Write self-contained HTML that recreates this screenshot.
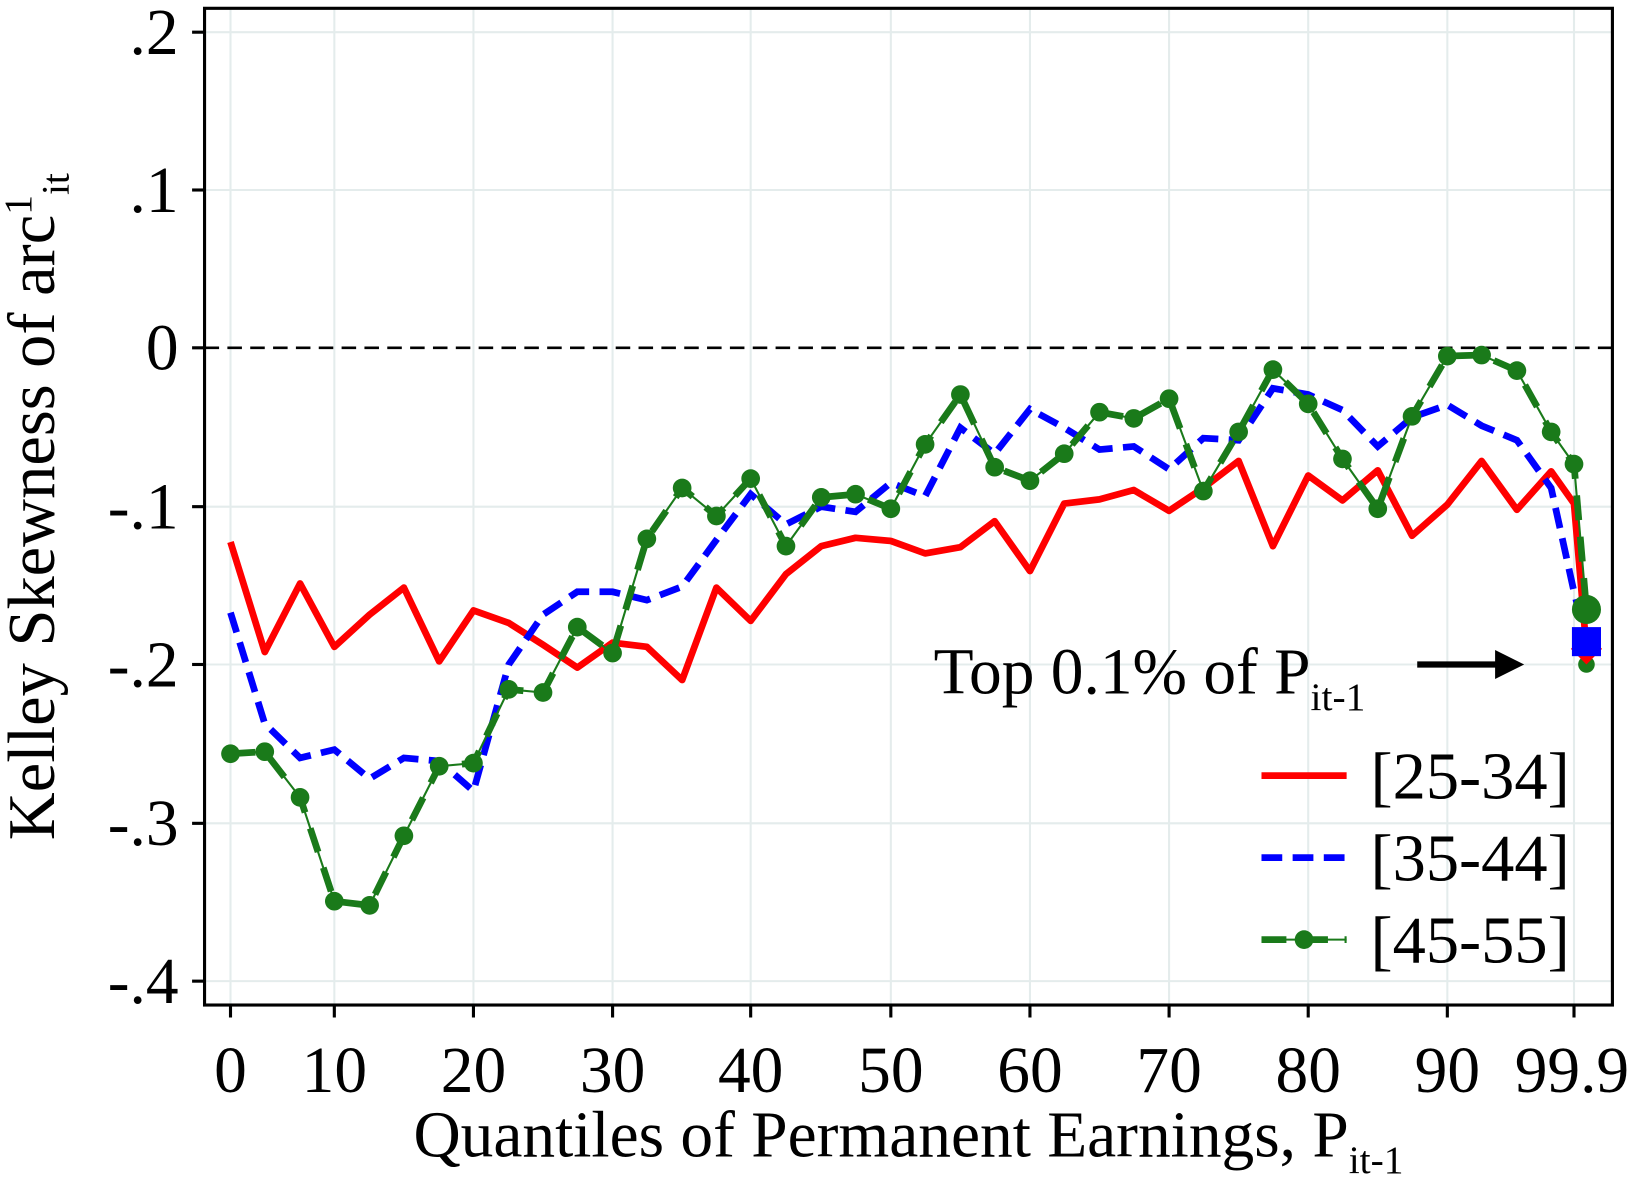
<!DOCTYPE html>
<html><head><meta charset="utf-8"><style>
html,body{margin:0;padding:0;background:#fff;}
svg{display:block;font-family:"Liberation Serif",serif;}
</style></head><body>
<svg width="1628" height="1178" viewBox="0 0 1568 1134.6" xmlns="http://www.w3.org/2000/svg">
<rect width="1568" height="1135" fill="#fff"/>
<g stroke="#e4ecec" stroke-width="2">
<line x1="222" y1="8" x2="222" y2="968"/><line x1="322" y1="8" x2="322" y2="968"/><line x1="456" y1="8" x2="456" y2="968"/><line x1="590" y1="8" x2="590" y2="968"/><line x1="723" y1="8" x2="723" y2="968"/><line x1="858" y1="8" x2="858" y2="968"/><line x1="992" y1="8" x2="992" y2="968"/><line x1="1126" y1="8" x2="1126" y2="968"/><line x1="1260" y1="8" x2="1260" y2="968"/><line x1="1394" y1="8" x2="1394" y2="968"/><line x1="1516" y1="8" x2="1516" y2="968"/>
<line x1="197" y1="31" x2="1553" y2="31"/><line x1="197" y1="183" x2="1553" y2="183"/><line x1="197" y1="488" x2="1553" y2="488"/><line x1="197" y1="640" x2="1553" y2="640"/><line x1="197" y1="793" x2="1553" y2="793"/><line x1="197" y1="945" x2="1553" y2="945"/>
</g>
<line x1="197" y1="335" x2="1553" y2="335" stroke="#000" stroke-width="2.5" stroke-dasharray="14,8"/>
<rect x="197" y="8" width="1356" height="960" fill="none" stroke="#000" stroke-width="3"/>
<g stroke="#000" stroke-width="3">
<line x1="185" y1="31" x2="197" y2="31"/><line x1="185" y1="183" x2="197" y2="183"/><line x1="185" y1="335" x2="197" y2="335"/><line x1="185" y1="488" x2="197" y2="488"/><line x1="185" y1="640" x2="197" y2="640"/><line x1="185" y1="793" x2="197" y2="793"/><line x1="185" y1="945" x2="197" y2="945"/>
<line x1="222" y1="968" x2="222" y2="980"/><line x1="322" y1="968" x2="322" y2="980"/><line x1="456" y1="968" x2="456" y2="980"/><line x1="590" y1="968" x2="590" y2="980"/><line x1="723" y1="968" x2="723" y2="980"/><line x1="858" y1="968" x2="858" y2="980"/><line x1="992" y1="968" x2="992" y2="980"/><line x1="1126" y1="968" x2="1126" y2="980"/><line x1="1260" y1="968" x2="1260" y2="980"/><line x1="1394" y1="968" x2="1394" y2="980"/><line x1="1516" y1="968" x2="1516" y2="980"/>
</g>
<g font-size="63" text-anchor="end" fill="#000">
<text x="172" y="52">.2</text><text x="172" y="204">.1</text><text x="172" y="356">0</text><text x="172" y="509">-.1</text><text x="172" y="661">-.2</text><text x="172" y="814">-.3</text><text x="172" y="966">-.4</text>
</g>
<g font-size="63" text-anchor="middle" fill="#000">
<text x="222" y="1052">0</text><text x="322" y="1052">10</text><text x="456" y="1052">20</text><text x="590" y="1052">30</text><text x="723" y="1052">40</text><text x="858" y="1052">50</text><text x="992" y="1052">60</text><text x="1126" y="1052">70</text><text x="1260" y="1052">80</text><text x="1394" y="1052">90</text><text x="1514" y="1052">99.9</text>
</g>
<text x="875" y="1114" font-size="63" text-anchor="middle">Quantiles of Permanent Earnings, P<tspan font-size="38" dy="16">it-1</tspan></text>
<text transform="translate(52,488) rotate(-90)" font-size="64" text-anchor="middle">Kelley Skewness of arc<tspan font-size="38" dy="-22">1</tspan><tspan font-size="38" dy="36">it</tspan></text>
<polyline fill="none" stroke="#ff0000" stroke-width="6.5" stroke-linejoin="round" points="222,522 255,628 289,562 322,623 356,592 389,566 423,637 456,588 490,600 523,621 556,643 590,619 623,623 657,655 690,566 723,598 757,553 791,526 824,518 858,521 891,533 925,527 958,502 992,550 1025,485 1059,481 1092,472 1126,492 1159,470 1193,444 1226,526 1260,458 1293,482 1327,453 1360,516 1394,486 1427,444 1461,491 1494,454 1516,485 1528,625"/>
<polyline fill="none" stroke="#0000ff" stroke-width="6.5" stroke-dasharray="20,10" points="222,590 255,697 289,730 322,722 356,750 389,730 423,733 456,762 490,640 523,592 556,570 590,570 623,578 657,565 690,520 723,476 757,505 791,488 824,493 858,465 891,478 925,412 958,437 992,394 1025,412 1059,433 1092,430 1126,452 1159,422 1193,424 1226,374 1260,380 1293,395 1327,430 1360,402 1394,390 1427,410 1461,424 1494,470 1516,570 1528,618"/>
<g fill="none" stroke="#1a7a1a">
<polyline stroke-width="2" points="222,726 255,724 289,768 322,868 356,872 389,805 423,738 456,735 490,664 523,667 556,604 590,629 623,519 657,470 690,497 723,461 757,526 791,479 824,476 858,490 891,428 925,380 958,450 992,463 1025,437 1059,397 1092,403 1126,384 1159,473 1193,416 1226,356 1260,389 1293,442 1327,490 1360,401 1394,343 1427,342 1461,357 1494,416 1516,447 1528,587"/>
<polyline stroke-width="6.5" stroke-dasharray="24,16" points="222,726 255,724 289,768 322,868 356,872 389,805 423,738 456,735 490,664 523,667 556,604 590,629 623,519 657,470 690,497 723,461 757,526 791,479 824,476 858,490 891,428 925,380 958,450 992,463 1025,437 1059,397 1092,403 1126,384 1159,473 1193,416 1226,356 1260,389 1293,442 1327,490 1360,401 1394,343 1427,342 1461,357 1494,416 1516,447 1528,587"/>
</g>
<g fill="#1a7a1a">
<circle cx="222" cy="726" r="9"/><circle cx="255" cy="724" r="9"/><circle cx="289" cy="768" r="9"/><circle cx="322" cy="868" r="9"/><circle cx="356" cy="872" r="9"/><circle cx="389" cy="805" r="9"/><circle cx="423" cy="738" r="9"/><circle cx="456" cy="735" r="9"/><circle cx="490" cy="664" r="9"/><circle cx="523" cy="667" r="9"/><circle cx="556" cy="604" r="9"/><circle cx="590" cy="629" r="9"/><circle cx="623" cy="519" r="9"/><circle cx="657" cy="470" r="9"/><circle cx="690" cy="497" r="9"/><circle cx="723" cy="461" r="9"/><circle cx="757" cy="526" r="9"/><circle cx="791" cy="479" r="9"/><circle cx="824" cy="476" r="9"/><circle cx="858" cy="490" r="9"/><circle cx="891" cy="428" r="9"/><circle cx="925" cy="380" r="9"/><circle cx="958" cy="450" r="9"/><circle cx="992" cy="463" r="9"/><circle cx="1025" cy="437" r="9"/><circle cx="1059" cy="397" r="9"/><circle cx="1092" cy="403" r="9"/><circle cx="1126" cy="384" r="9"/><circle cx="1159" cy="473" r="9"/><circle cx="1193" cy="416" r="9"/><circle cx="1226" cy="356" r="9"/><circle cx="1260" cy="389" r="9"/><circle cx="1293" cy="442" r="9"/><circle cx="1327" cy="490" r="9"/><circle cx="1360" cy="401" r="9"/><circle cx="1394" cy="343" r="9"/><circle cx="1427" cy="342" r="9"/><circle cx="1461" cy="357" r="9"/><circle cx="1494" cy="416" r="9"/><circle cx="1516" cy="447" r="9"/>
</g>
<circle cx="1528" cy="640" r="8" fill="#1a7a1a"/>
<polygon points="1528,610 1543,625 1528,640 1513,625" fill="#ff0000"/>
<rect x="1514" y="604" width="28" height="28" fill="#0000ff"/>
<circle cx="1528" cy="587" r="14" fill="#1a7a1a"/>
<text x="1315" y="668" font-size="63" text-anchor="end">Top 0.1% of P<tspan font-size="38" dy="16">it-1</tspan></text>
<line x1="1365" y1="640" x2="1445" y2="640" stroke="#000" stroke-width="6"/>
<polygon points="1468,640 1440,626 1440,654" fill="#000"/>
<line x1="1215" y1="747" x2="1297" y2="747" stroke="#ff0000" stroke-width="6.5"/>
<line x1="1215" y1="826" x2="1297" y2="826" stroke="#0000ff" stroke-width="6.5" stroke-dasharray="20,10"/>
<line x1="1215" y1="905" x2="1297" y2="905" stroke="#1a7a1a" stroke-width="2"/>
<line x1="1215" y1="905" x2="1297" y2="905" stroke="#1a7a1a" stroke-width="6.5" stroke-dasharray="24,16"/>
<circle cx="1256" cy="905" r="9" fill="#1a7a1a"/>
<g font-size="64"><text x="1320" y="769">[25-34]</text><text x="1320" y="848">[35-44]</text><text x="1320" y="927">[45-55]</text></g>
</svg>
</body></html>
